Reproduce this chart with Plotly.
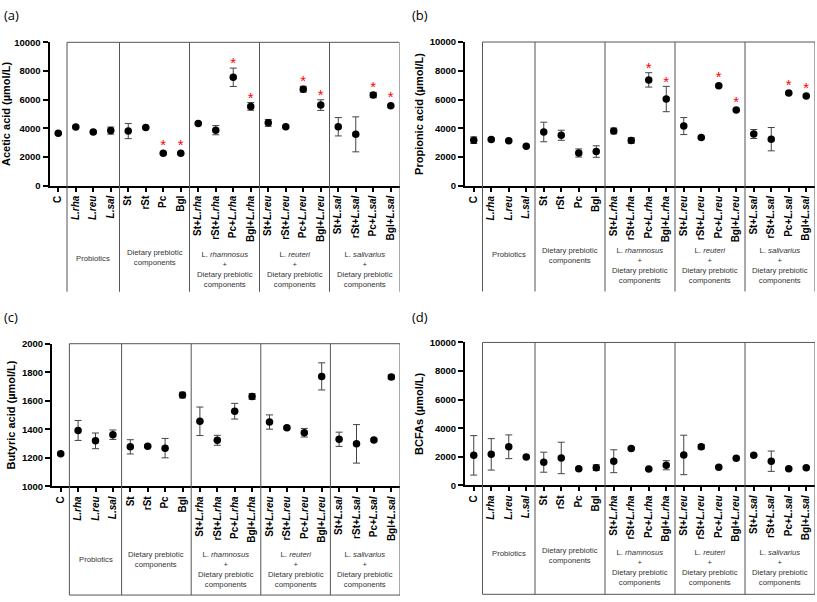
import plotly.graph_objects as go

W, H = 817, 602

categories = ["C", "L.rha", "L.reu", "L.sal", "St", "rSt", "Pc", "Bgl",
              "St+L.rha", "rSt+L.rha", "Pc+L.rha", "Bgl+L.rha",
              "St+L.reu", "rSt+L.reu", "Pc+L.reu", "Bgl+L.reu",
              "St+L.sal", "rSt+L.sal", "Pc+L.sal", "Bgl+L.sal"]

acetic_mean = [3650, 4100, 3740, 3840, 3810, 4060, 2260, 2260, 4340, 3870,
               7560, 5530, 4380, 4110, 6730, 5620, 4110, 3580, 6320, 5570]
acetic_err = [60, 60, 60, 250, 530, 60, 60, 60, 60, 320,
              640, 270, 240, 60, 200, 370, 640, 1220, 180, 60]
acetic_sig = ["Pc", "Bgl", "Pc+L.rha", "Bgl+L.rha", "Pc+L.reu", "Bgl+L.reu",
              "Pc+L.sal", "Bgl+L.sal"]

propionic_mean = [3180, 3230, 3140, 2750, 3750, 3520, 2290, 2390, 3820, 3160,
                  7370, 6040, 4160, 3360, 6960, 5270, 3610, 3250, 6450, 6250]
propionic_err = [230, 60, 60, 60, 680, 350, 280, 400, 200, 190,
                 500, 880, 590, 60, 60, 60, 310, 810, 60, 60]
propionic_sig = ["Pc+L.rha", "Bgl+L.rha", "Pc+L.reu", "Bgl+L.reu",
                 "Pc+L.sal", "Bgl+L.sal"]

butyric_mean = [1229, 1392, 1319, 1362, 1277, 1282, 1268, 1640, 1456, 1323,
                1527, 1630, 1451, 1410, 1376, 1771, 1330, 1298, 1325, 1766]
butyric_err = [8, 70, 55, 33, 50, 8, 68, 20, 100, 35,
               55, 20, 50, 8, 30, 95, 50, 135, 8, 15]
butyric_sig = []

bcfa_mean = [2100, 2170, 2700, 1990, 1620, 1920, 1170, 1240, 1690, 2580,
             1140, 1410, 2130, 2700, 1260, 1900, 2100, 1690, 1170, 1240]
bcfa_err = [1380, 1100, 830, 60, 700, 1100, 60, 200, 800, 60,
            60, 320, 1380, 150, 60, 60, 60, 710, 60, 60]
bcfa_sig = []

group_labels = ["Probiotics",
                "Dietary prebiotic<br>components",
                "L. <i>rhamnosus</i><br>+<br>Dietary prebiotic<br>components",
                "L. <i>reuteri</i><br>+<br>Dietary prebiotic<br>components",
                "L. <i>salivarius</i><br>+<br>Dietary prebiotic<br>components"]
group_members = [["L.rha", "L.reu", "L.sal"],
                 ["St", "rSt", "Pc", "Bgl"],
                 ["St+L.rha", "rSt+L.rha", "Pc+L.rha", "Bgl+L.rha"],
                 ["St+L.reu", "rSt+L.reu", "Pc+L.reu", "Bgl+L.reu"],
                 ["St+L.sal", "rSt+L.sal", "Pc+L.sal", "Bgl+L.sal"]]


def fmt_tick(c):
    if "L." in c:
        i = c.index("L.")
        return c[:i] + "<i>" + c[i:] + "</i>"
    return c


ticktext = [fmt_tick(c) for c in categories]

# pixel geometry (top-left origin) of each panel's plot area
panels = [
    dict(mean=acetic_mean, err=acetic_err, sig=acetic_sig, title="Acetic acid (µmol/L)",
         yr=[0, 10000], dt=2000, px=(49.5, 399.5), py=(37, 183), label="(a)", lab_xy=(2, 9),
         gy=(-0.507, -0.503, -0.586), bottom=-0.74, bline=False),
    dict(mean=propionic_mean, err=propionic_err, sig=propionic_sig, title="Propionic acid (µmol/L)",
         yr=[0, 10000], dt=2000, px=(465, 815), py=(36.7, 183.3), label="(b)", lab_xy=(410, 9),
         gy=(-0.477, -0.481, -0.55), bottom=-0.733, bline=False),
    dict(mean=butyric_mean, err=butyric_err, sig=butyric_sig, title="Butyric acid (µmol/L)",
         yr=[1000, 2000], dt=200, px=(52, 400), py=(344, 489.3), label="(c)", lab_xy=(2, 317),
         gy=(-0.514, -0.516, -0.584), bottom=-0.762, bline=True),
    dict(mean=bcfa_mean, err=bcfa_err, sig=bcfa_sig, title="BCFAs (µmol/L)",
         yr=[0, 10000], dt=2000, px=(465, 815), py=(342.7, 488.3), label="(d)", lab_xy=(410, 317),
         gy=(-0.48, -0.492, -0.577), bottom=-0.762, bline=True),
]

fig = go.Figure()
layout = {}
shapes = []
annotations = []
LINE_C = "#555555"
FAM = "Liberation Sans"
TICKFONT = dict(family=FAM, size=10, color="black", weight="bold")

for k, p in enumerate(panels):
    n = "" if k == 0 else str(k + 1)
    xa, ya = "x" + n, "y" + n
    xdom = [p["px"][0] / W, p["px"][1] / W]
    ydom = [(H - p["py"][1]) / H, (H - p["py"][0]) / H]
    ppu = (p["py"][1] - p["py"][0]) / (p["yr"][1] - p["yr"][0])  # px per unit

    fig.add_trace(go.Scatter(
        x=categories, y=p["mean"], xaxis=xa, yaxis=ya, mode="markers",
        marker=dict(color="black", size=7.5),
        error_y=dict(type="data", array=p["err"], color="#444444", thickness=1, width=3.5),
        showlegend=False, hoverinfo="x+y", cliponaxis=False))

    if p["sig"]:
        sx, sy = [], []
        for c in p["sig"]:
            i = categories.index(c)
            top = p["mean"][i] + max(p["err"][i], 3.8 / ppu)
            sx.append(c)
            sy.append(top + 3.5 / ppu)
        fig.add_trace(go.Scatter(
            x=sx, y=sy, xaxis=xa, yaxis=ya, mode="text", text=["*"] * len(sx),
            textposition="middle center",
            textfont=dict(color="red", size=15, family=FAM),
            showlegend=False, hoverinfo="skip", cliponaxis=False))

    layout["xaxis" + n] = dict(
        domain=xdom, anchor=ya, type="category", categoryorder="array", categoryarray=categories,
        range=[-0.5, 19.5], tickvals=categories, ticktext=ticktext, tickangle=-90,
        showline=True, linecolor="black", linewidth=2, ticks="outside", ticklen=4,
        tickwidth=1.5, tickcolor="black", tickfont=TICKFONT, showgrid=False, zeroline=False,
        fixedrange=True)
    layout["yaxis" + n] = dict(
        domain=ydom, anchor=xa, range=p["yr"], dtick=p["dt"], tick0=p["yr"][0], tickformat="d",
        showline=True, linecolor="black", linewidth=2, ticks="outside", ticklen=5,
        tickwidth=1.5, tickcolor="black", tickfont=dict(TICKFONT, size=9.5),
        showgrid=False, zeroline=False,
        title=dict(text=p["title"], standoff=4,
                   font=dict(family=FAM, size=11, color="black", weight="bold")))

    ydr = ya + " domain"
    bounds = [0.5, 3.5, 7.5, 11.5, 15.5, 19.5]
    for b in bounds:
        shapes.append(dict(type="line", xref=xa, yref=ydr, x0=b, x1=b, y0=p["bottom"], y1=1,
                           line=dict(color=LINE_C, width=1)))
    shapes.append(dict(type="line", xref=xa, yref=ydr, x0=0.5, x1=19.5, y0=1, y1=1,
                       line=dict(color=LINE_C, width=1)))
    if p["bline"]:
        shapes.append(dict(type="line", xref=xa, yref=ydr, x0=0.5, x1=19.5,
                           y0=p["bottom"], y1=p["bottom"], line=dict(color=LINE_C, width=1)))

    for g, (txt, members) in enumerate(zip(group_labels, group_members)):
        idx = [categories.index(m) for m in members]
        cx = (min(idx) + max(idx)) / 2
        gy = p["gy"][0] if g == 0 else (p["gy"][1] if g == 1 else p["gy"][2])
        annotations.append(dict(
            x=cx, y=gy, xref=xa, yref=ydr, text=txt, showarrow=False,
            xanchor="center", yanchor="middle", align="center",
            font=dict(family=FAM, size=7.7, color="#333333")))

    annotations.append(dict(
        x=p["lab_xy"][0] / W, y=(H - p["lab_xy"][1]) / H, xref="paper", yref="paper",
        text=p["label"], showarrow=False, xanchor="left", yanchor="middle",
        font=dict(family="Open Sans", size=13, color="black")))

fig.update_layout(
    width=W, height=H, autosize=False,
    margin=dict(l=0, r=0, t=0, b=0),
    paper_bgcolor="white", plot_bgcolor="white",
    shapes=shapes, annotations=annotations, showlegend=False,
    **layout)

fig.write_html("out.html", config={"displayModeBar": False},
               post_script="document.body.style.margin='0';")
